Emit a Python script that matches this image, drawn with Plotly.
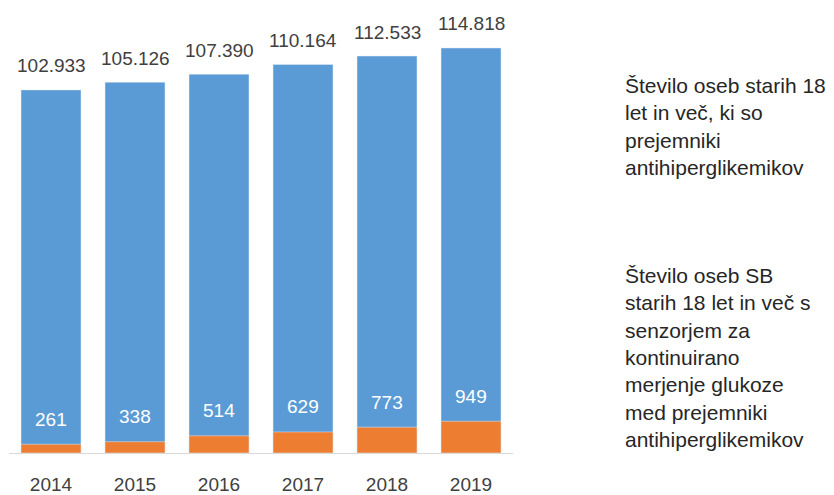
import plotly.graph_objects as go

years = ["2014", "2015", "2016", "2017", "2018", "2019"]
recipients = [102933, 105126, 107390, 110164, 112533, 114818]
sensor_users = [261, 338, 514, 629, 773, 949]
legend_recipients = "Število oseb starih 18<br>let in več, ki so<br>prejemniki<br>antihiperglikemikov"
legend_sensor = ("Število oseb SB<br>starih 18 let in več s<br>senzorjem za<br>kontinuirano<br>"
                 "merjenje glukoze<br>med prejemniki<br>antihiperglikemikov")

BLUE = "#5B9BD5"
ORANGE = "#ED7D31"
TEXT = "#404040"
FONT = "Liberation Sans"


def fmt(v):
    return f"{v:,}".replace(",", ".")


fig = go.Figure()
fig.add_trace(go.Bar(x=years, y=recipients, marker_color=BLUE, name="recipients",
                     yaxis="y", xaxis="x"))
fig.add_trace(go.Bar(x=years, y=sensor_users, marker_color=ORANGE, name="sensor",
                     yaxis="y2", xaxis="x"))

annotations = []
# category axes place annotations by category index
for i, v in enumerate(recipients):
    annotations.append(dict(x=i, y=v, xref="x", yref="y", text=fmt(v), showarrow=False,
                            yanchor="middle", yshift=24,
                            font=dict(family=FONT, size=19, color=TEXT)))
for i, v in enumerate(sensor_users):
    annotations.append(dict(x=i, y=v, xref="x", yref="y2", text=fmt(v), showarrow=False,
                            yanchor="middle", yshift=25,
                            font=dict(family=FONT, size=19, color="white")))

annotations.append(dict(x=1.2183, y=0.881, xref="paper", yref="paper", text=legend_recipients,
                        showarrow=False, xanchor="left", yanchor="top", align="left",
                        font=dict(family=FONT, size=21, color="#262626")))
annotations.append(dict(x=1.2183, y=0.442, xref="paper", yref="paper", text=legend_sensor,
                        showarrow=False, xanchor="left", yanchor="top", align="left",
                        font=dict(family=FONT, size=21, color="#262626")))

fig.update_layout(
    width=834, height=495,
    margin=dict(l=1, r=329, t=12, b=50, autoexpand=False),
    paper_bgcolor="white", plot_bgcolor="white",
    barmode="overlay",
    bargap=0.286,
    showlegend=False,
    font=dict(family=FONT, color=TEXT),
    xaxis=dict(type="category", range=[-0.5, len(years) - 0.5], showline=True,
               linecolor="#D9D9D9", linewidth=1, ticks="", ticklabelstandoff=14,
               tickfont=dict(family=FONT, size=19, color=TEXT), showgrid=False,
               zeroline=False),
    yaxis=dict(range=[0, 122750], showticklabels=False, showline=False, ticks="",
               showgrid=False, zeroline=False),
    yaxis2=dict(range=[0, 12950], showticklabels=False, showline=False, ticks="",
                overlaying="y", side="right", showgrid=False, zeroline=False),
    annotations=annotations,
)

fig.write_html("out.html")
